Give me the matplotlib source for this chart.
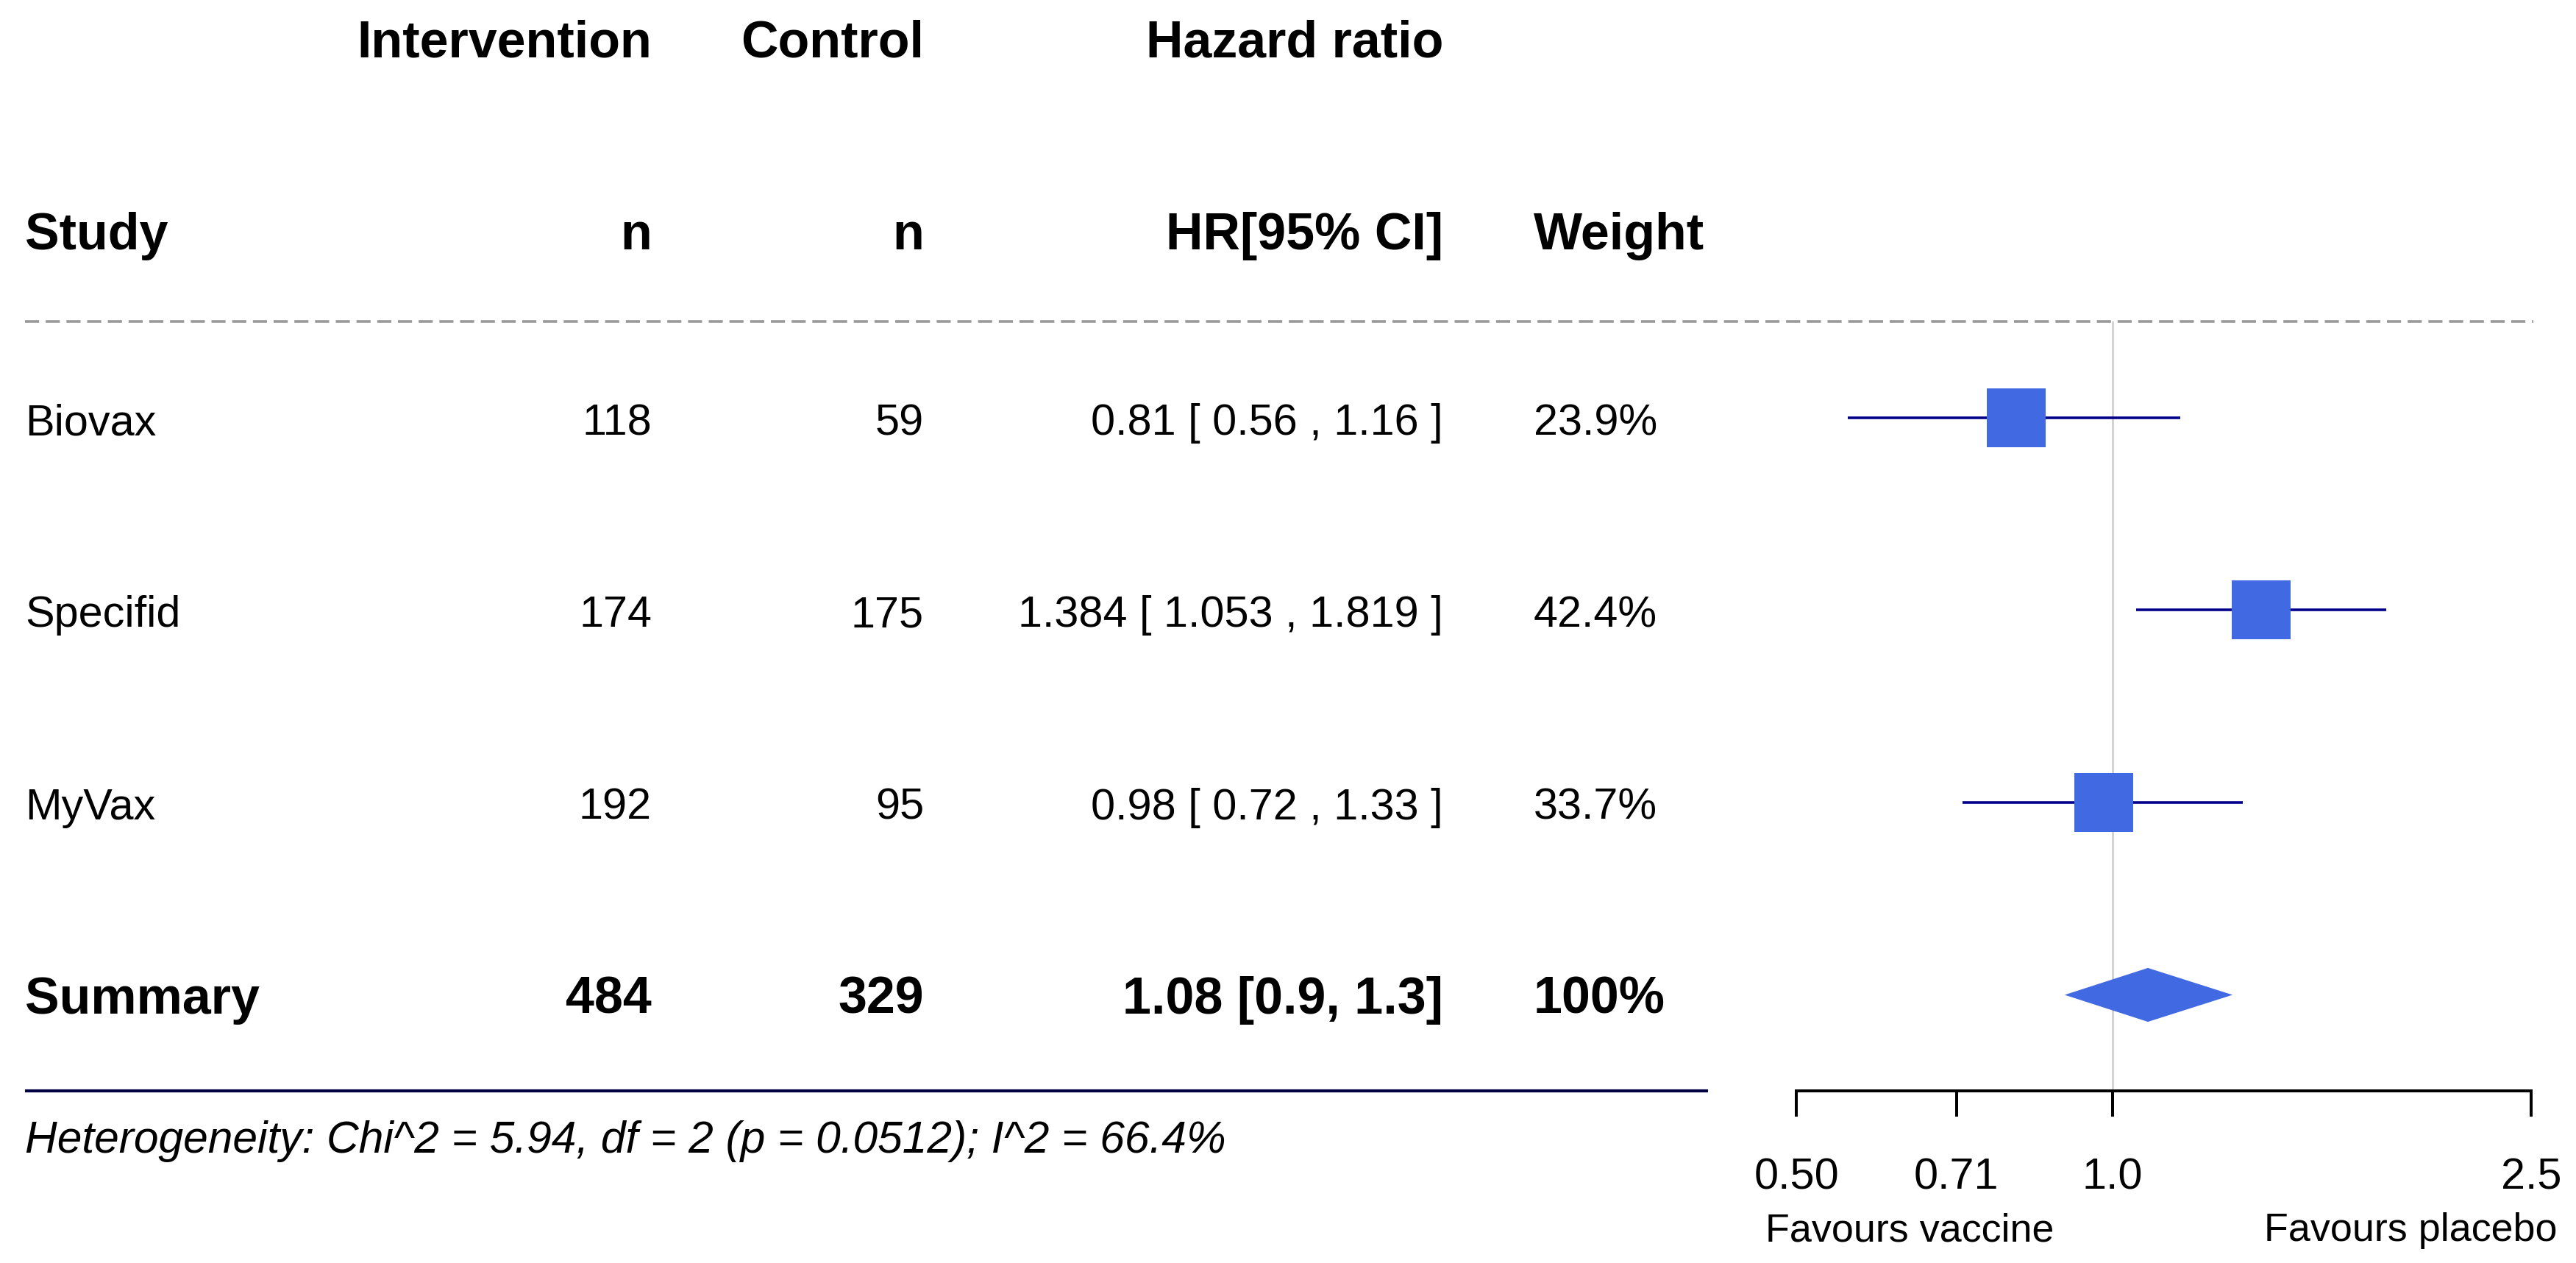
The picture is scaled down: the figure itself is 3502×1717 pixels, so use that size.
import matplotlib.pyplot as plt
from matplotlib.ticker import NullLocator
from matplotlib.transforms import ScaledTranslation

plt.rcParams['font.family'] = ['Liberation Sans', 'DejaVu Sans']

# data
studies = ["Biovax", "Specifid", "MyVax"]
n_int = [118, 174, 192]
n_ctrl = [59, 175, 95]
hr = [0.81, 1.384, 0.98]
ci_lo = [0.56, 1.053, 0.72]
ci_hi = [1.16, 1.819, 1.33]
hr_text = ["0.81 [ 0.56 , 1.16 ]", "1.384 [ 1.053 , 1.819 ]", "0.98 [ 0.72 , 1.33 ]"]
weights = ["23.9%", "42.4%", "33.7%"]

sum_n_int, sum_n_ctrl = 484, 329
sum_hr, sum_lo, sum_hi = 1.08, 0.9, 1.3
sum_text = "1.08 [0.9, 1.3]"
sum_weight = "100%"

het_text = "Heterogeneity: Chi^2 = 5.94, df = 2 (p = 0.0512); I^2 = 66.4%"
xticks = [0.5, 0.71, 1.0, 2.5]
xtick_labels = ["0.50", "0.71", "1.0", "2.5"]

W, H, DPI = 3502, 1717, 200
fig = plt.figure(figsize=(W / DPI, H / DPI), dpi=DPI)

row0, row_h = 568, 261.5     # pixel centre of first row, row spacing
BODY, BOLD, SMALL = 21.4, 25.2, 19.4
SQ_BLUE, CI_BLUE = '#4169e1', '#00008b'

# table layer: x in pixels, y in row units
tab = fig.add_axes([0, 0, 1, 1])
tab.set_xlim(0, W)
tab.set_ylim((H - row0) / row_h, -row0 / row_h)
tab.axis('off')


def put(x, row, s, ha='left', bold=False, size=BODY, style='normal'):
    off = ScaledTranslation(0, -(25 if bold else 23) / DPI, fig.dpi_scale_trans)
    tab.text(x, row, s, ha=ha, va='baseline', fontsize=size,
             fontweight='bold' if bold else 'normal', fontstyle=style,
             transform=tab.transData + off)


# columns (pixel anchors)
c_study, c_int, c_ctrl, c_hr, c_w = 34, 886, 1256, 1962, 2085

put(c_int, -1.97, "Intervention", 'right', True, BOLD)
put(c_ctrl, -1.97, "Control", 'right', True, BOLD)
put(c_hr, -1.97, "Hazard ratio", 'right', True, BOLD)
put(c_study, -0.97, "Study", 'left', True, BOLD)
put(c_int, -0.97, "n", 'right', True, BOLD)
put(c_ctrl, -0.97, "n", 'right', True, BOLD)
put(c_hr, -0.97, "HR[95% CI]", 'right', True, BOLD)
put(c_w, -0.97, "Weight", 'left', True, BOLD)

for i, name in enumerate(studies):
    put(c_study, i, name)
    put(c_int, i, str(n_int[i]), 'right')
    put(c_ctrl, i, str(n_ctrl[i]), 'right')
    put(c_hr, i, hr_text[i], 'right')
    put(c_w, i, weights[i])

k = len(studies)
put(c_study, k, "Summary", 'left', True, BOLD)
put(c_int, k, str(sum_n_int), 'right', True, BOLD)
put(c_ctrl, k, str(sum_n_ctrl), 'right', True, BOLD)
put(c_hr, k, sum_text, 'right', True, BOLD)
put(c_w, k, sum_weight, 'left', True, BOLD)

tab.hlines(-0.5, 34, 3444, color='#999999', lw=1.3, linestyles=(0, (5.3, 2.5)))
tab.hlines(k + 0.5, 34, 2322, color='#000044', lw=1.5)
tab.text(c_study, 3.82, het_text, ha='left', va='baseline', fontsize=21.8,
         fontstyle='italic')
tab.text(2400, 4.28, "Favours vaccine", ha='left', va='baseline', fontsize=SMALL)
tab.text(3078, 4.28, "Favours placebo", ha='left', va='baseline', fontsize=SMALL)

# forest panel
fx0, fx1 = 2442, 3441
ax = fig.add_axes([fx0 / W, 1 - (row0 + (k + 0.5) * row_h) / H,
                   (fx1 - fx0) / W, (k + 1) * row_h / H])
ax.set_facecolor('none')
ax.set_xscale('log')
ax.set_xlim(0.5, 2.5)
ax.set_ylim(k + 0.5, -0.5)
rows = list(range(k))

ax.axvline(1.0, color='#d3d3d3', lw=1.1, zorder=0)
ax.hlines(rows, ci_lo, ci_hi, color=CI_BLUE, lw=1.3, zorder=2)
ax.plot(hr, rows, 's', ms=28.8, color=SQ_BLUE, mew=0, zorder=3)
ax.fill([sum_lo, sum_hr, sum_hi, sum_hr], [k, k - 0.14, k, k + 0.14],
        color=SQ_BLUE, lw=0, zorder=3)

for s in ['top', 'left', 'right']:
    ax.spines[s].set_visible(False)
ax.spines['bottom'].set_linewidth(1.44)
ax.set_yticks([])
ax.set_xticks(xticks, xtick_labels)
ax.xaxis.set_minor_locator(NullLocator())
ax.tick_params(axis='x', length=12.6, width=1.44, pad=19.8, labelsize=BODY)

fig.savefig('out.png', dpi=DPI)
